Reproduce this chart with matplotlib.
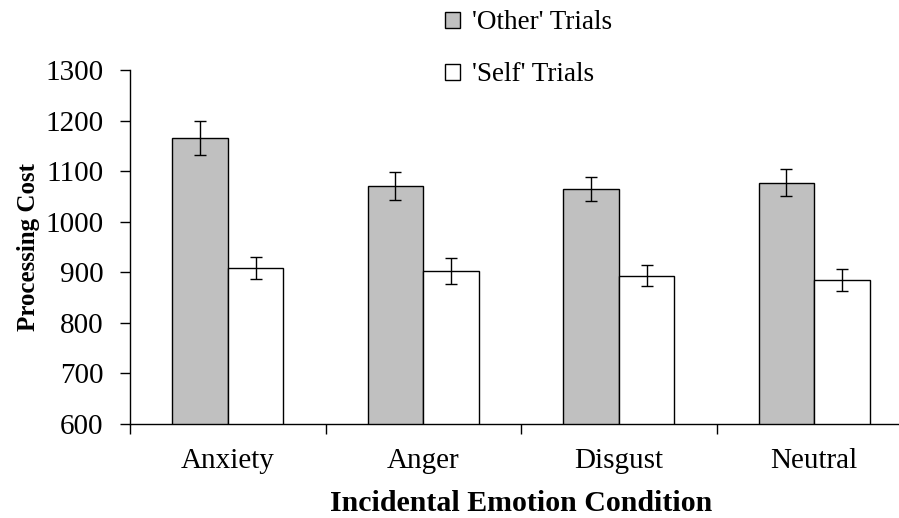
import numpy as np
import matplotlib
matplotlib.use("Agg")
import matplotlib.pyplot as plt
from matplotlib.ticker import FixedLocator, NullFormatter

# data
conditions = ["Anxiety", "Anger", "Disgust", "Neutral"]
other_mean = [1165, 1070, 1065, 1077]
other_err = [34, 28, 24, 27]
self_mean = [909, 902, 893, 885]
self_err = [22, 26, 21, 22]

plt.rcParams['font.family'] = ['Liberation Serif', 'DejaVu Serif']

fig = plt.figure(figsize=(8.99, 5.18), dpi=100)
ax = fig.add_axes([130/899, 94/518, 782/899, 354/518])

x = np.arange(len(conditions))
w = 0.284
ax.bar(x - w/2, other_mean, w, color="#c0c0c0", edgecolor="black", linewidth=1.0,
       label="'Other' Trials", zorder=2)
ax.bar(x + w/2, self_mean, w, color="white", edgecolor="black", linewidth=1.0,
       label="'Self' Trials", zorder=2)
ax.errorbar(x - w/2, other_mean, yerr=other_err, fmt="none", ecolor="black",
            elinewidth=1.0, capsize=4.5, capthick=1.0, zorder=3)
ax.errorbar(x + w/2, self_mean, yerr=self_err, fmt="none", ecolor="black",
            elinewidth=1.0, capsize=4.5, capthick=1.0, zorder=3)

ax.set_xlim(-0.5, 3.5)
ax.set_ylim(600, 1300)
ax.set_yticks(np.arange(600, 1301, 100))
ax.xaxis.set_major_locator(FixedLocator(np.arange(-0.5, 4, 1)))
ax.xaxis.set_major_formatter(NullFormatter())
ax.xaxis.set_minor_locator(FixedLocator(x))
ax.set_xticklabels(conditions, minor=True)
ax.tick_params(axis="x", which="minor", length=0, labelsize=21, pad=17)
ax.tick_params(axis="x", which="major", length=7, width=1, direction="out")
ax.tick_params(axis="y", length=7, width=1, direction="out", labelsize=21, pad=12)

for s in ["top", "right"]:
    ax.spines[s].set_visible(False)
for s in ["left", "bottom"]:
    ax.spines[s].set_linewidth(1.0)

ax.set_ylabel("Processing Cost", fontsize=18, fontweight="bold", labelpad=4)
ax.set_xlabel("Incidental Emotion Condition", fontsize=21.5, fontweight="bold", labelpad=12)

fig.legend(loc="upper left", bbox_to_anchor=(429/899, 1.0 + 6/518), frameon=False,
           fontsize=19.5, handlelength=0.55, handleheight=0.55, handletextpad=0.45,
           labelspacing=1.0, borderpad=0.1)

fig.savefig("out.png", dpi=100)
